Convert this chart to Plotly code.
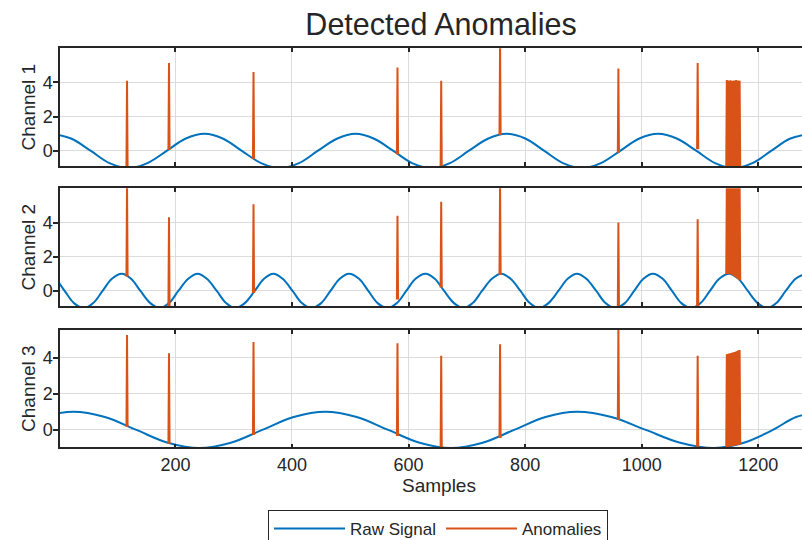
import plotly.graph_objects as go

# ---------------- data ----------------
x_range = [2, 1275]
x_ticks = [200, 400, 600, 800, 1000, 1200]
y_ticks = [0, 2, 4]
channel_names = ["Channel 1", "Channel 2", "Channel 3"]
series_names = ["Raw Signal", "Anomalies"]

# raw signal points (eighth-period spacing)
ch1_x = [-10, 22, 55, 87, 120, 152, 185, 217, 250, 282, 314, 347, 379, 412,
         444, 477, 509, 541, 574, 606, 639, 671, 703, 736, 768, 801, 833, 865,
         898, 930, 963, 995, 1028, 1061, 1094, 1126, 1157, 1190, 1222, 1254, 1287]
ch1_y = [1, .71, 0, -.71, -1, -.71, 0, .71, 1, .71, 0, -.71, -1, -.71,
         0, .71, 1, .71, 0, -.71, -1, -.71, 0, .71, 1, .71, 0, -.71,
         -1, -.71, 0, .71, 1, .71, 0, -.71, -1, -.71, 0, .71, 1]

ch2_x = [-23, -6, 10, 26, 43, 59, 75, 91,
         108, 124, 140, 157, 173, 189, 205, 222,
         238, 254, 271, 287, 303, 319, 336, 352,
         368, 384, 401, 417, 433, 450, 466, 482,
         498, 515, 531, 547, 564, 580, 596, 612,
         629, 645, 661, 678, 694, 710, 726, 743,
         759, 775, 792, 808, 824, 840, 857, 873,
         889, 905, 922, 938, 954, 971, 987, 1003,
         1019, 1036, 1052, 1068, 1085, 1101, 1117, 1133,
         1150, 1166, 1182, 1199, 1215, 1231, 1247, 1264,
         1280]
ch2_y = [1, .71, 0, -.71, -1, -.71, 0, .71,
         1, .71, 0, -.71, -1, -.71, 0, .71,
         1, .71, 0, -.71, -1, -.71, 0, .71,
         1, .71, 0, -.71, -1, -.71, 0, .71,
         1, .71, 0, -.71, -1, -.71, 0, .71,
         1, .71, 0, -.71, -1, -.71, 0, .71,
         1, .71, 0, -.71, -1, -.71, 0, .71,
         1, .71, 0, -.71, -1, -.71, 0, .71,
         1, .71, 0, -.71, -1, -.71, 0, .71,
         1, .71, 0, -.71, -1, -.71, 0, .71,
         1]

ch3_x = [-191, -137, -83, -29, 25, 79, 133, 187, 241, 295, 349, 403, 457,
         511, 565, 619, 673, 727, 781, 835, 889, 948, 1007, 1066, 1125,
         1175, 1225, 1265, 1310]
ch3_y = [-1, -.71, 0, .71, 1, .71, 0, -.71, -1, -.71, 0, .71, 1,
         .71, 0, -.71, -1, -.71, 0, .71, 1, .71, 0, -.71, -1,
         -.71, 0, .71, 1]

# isolated anomaly spikes
anomaly_idx = [117, 189, 334, 581, 656, 757, 960, 1096]
ch1_peak = [4.1, 5.14, 4.62, 4.88, 4.1, 6.3, 4.82, 5.14]
ch1_base = [-1.0, 0.05, -0.45, -0.2, -0.92, 0.93, -0.1, 0.1]
ch2_peak = [6.3, 4.31, 5.07, 4.4, 5.22, 6.3, 4.0, 4.19]
ch2_base = [0.84, -0.9, -0.12, -0.5, 0.2, 0.94, -0.98, -0.88]
ch3_peak = [5.25, 4.24, 4.85, 4.79, 4.09, 4.73, 5.8, 4.09]
ch3_base = [0.18, -0.77, -0.28, -0.33, -0.97, -0.45, 0.55, -0.93]

# burst of anomalies near the end
burst_idx = [1146, 1148, 1150, 1152, 1154, 1156, 1158, 1160, 1162, 1164, 1166, 1168]
ch1_burst_peak = [4.15, 4.12, 4.1, 4.13, 4.1, 4.1, 4.12, 4.1, 4.14, 4.1, 4.12, 4.1]
ch1_burst_base = [-0.97, -0.98, -0.99, -1, -1, -1, -1, -1, -1, -0.99, -0.98, -0.97]
ch2_burst_peak = [6.3, 6.3, 6.3, 6.3, 6.3, 6.3, 6.3, 6.3, 6.3, 6.3, 6.3, 6.3]
ch2_burst_base = [0.98, 0.99, 1.0, 0.99, 0.98, 0.95, 0.91, 0.87, 0.82, 0.76, 0.7, 0.63]
ch3_burst_peak = [4.18, 4.2, 4.22, 4.24, 4.25, 4.27, 4.29, 4.3, 4.33, 4.36, 4.4, 4.42]
ch3_burst_base = [-0.95, -0.94, -0.93, -0.92, -0.91, -0.9, -0.89, -0.88, -0.86, -0.85, -0.83, -0.81]

y_ranges = [[-0.88, 6.0], [-0.88, 6.0], [-0.96, 5.52]]

# ---------------- styling ----------------
BLUE = "#0072BD"
ORANGE = "#D95319"
DARK = "#262626"
GRID = "#dcdcdc"
FONT = "Liberation Sans, Arial, Helvetica, sans-serif"
domains = [[0.6926, 0.9106], [0.4333, 0.6513], [0.1717, 0.3889]]


def anomaly_series(peaks, bases, bpeaks, bbases):
    xs, ys = [], []
    for i, p, b in zip(anomaly_idx, peaks, bases):
        xs += [i - 1, i, i + 1, None]
        ys += [b, p, b, None]
    for i, p, b in zip(burst_idx, bpeaks, bbases):
        xs += [i - 1, i]
        ys += [b, p]
    xs.append(burst_idx[-1] + 1)
    ys.append(bbases[-1])
    return xs, ys


signals = [(ch1_x, ch1_y), (ch2_x, ch2_y), (ch3_x, ch3_y)]
anoms = [
    anomaly_series(ch1_peak, ch1_base, ch1_burst_peak, ch1_burst_base),
    anomaly_series(ch2_peak, ch2_base, ch2_burst_peak, ch2_burst_base),
    anomaly_series(ch3_peak, ch3_base, ch3_burst_peak, ch3_burst_base),
]

fig = go.Figure()
for k in range(3):
    suffix = "" if k == 0 else str(k + 1)
    sx, sy = signals[k]
    fig.add_trace(go.Scatter(
        x=sx, y=sy, mode="lines", name=series_names[0],
        line=dict(color=BLUE, width=2, shape="spline", smoothing=1.0),
        xaxis="x" + suffix, yaxis="y" + suffix, showlegend=(k == 0),
        legendgroup="raw", hoverinfo="skip"))
    ax, ay = anoms[k]
    fig.add_trace(go.Scatter(
        x=ax, y=ay, mode="lines", name=series_names[1],
        line=dict(color=ORANGE, width=2),
        xaxis="x" + suffix, yaxis="y" + suffix, showlegend=(k == 0),
        legendgroup="anom", connectgaps=False, hoverinfo="skip"))

layout = dict(
    width=802, height=540,
    margin=dict(l=60, r=0, t=0, b=0, autoexpand=False),
    paper_bgcolor="white", plot_bgcolor="white",
    font=dict(family=FONT, color=DARK, size=18),
    title=dict(text="Detected Anomalies", x=441 / 802, xref="container",
               xanchor="center", y=1 - 24 / 540, yref="container", yanchor="middle",
               font=dict(size=30.5, color=DARK, family=FONT)),
    showlegend=True,
    legend=dict(orientation="h", x=438 / 802, xref="container", xanchor="center",
                y=1 - 510 / 540, yref="container",
                yanchor="top", bordercolor=DARK, borderwidth=1, bgcolor="white",
                font=dict(size=17, color=DARK, family=FONT), itemwidth=71,
                traceorder="normal"),
    annotations=[dict(text="Samples", x=(439 - 60) / 742, y=1 - 485 / 540,
                      xref="paper", yref="paper", showarrow=False,
                      xanchor="center", yanchor="middle",
                      font=dict(size=19, color=DARK, family=FONT))],
)

for k in range(3):
    suffix = "" if k == 0 else str(k + 1)
    layout["xaxis" + suffix] = dict(
        domain=[0, 1], range=x_range, anchor="y" + suffix,
        tickvals=x_ticks, showticklabels=(k == 2),
        showgrid=True, gridcolor=GRID, gridwidth=1,
        showline=True, linecolor=DARK, linewidth=1.5, mirror="ticks",
        ticks="inside", ticklen=4, tickcolor=DARK, tickwidth=1.5,
        ticklabelstandoff=0,
        zeroline=False, tickfont=dict(size=18, color=DARK))
    layout["yaxis" + suffix] = dict(
        domain=domains[k], range=y_ranges[k], anchor="x" + suffix,
        tickvals=y_ticks, showgrid=True, gridcolor=GRID, gridwidth=1,
        showline=True, linecolor=DARK, linewidth=1.5, mirror=False,
        ticks="outside", ticklen=5, tickcolor=DARK, tickwidth=1.5,
        ticklabelstandoff=-3,
        zeroline=False, tickfont=dict(size=18, color=DARK),
        title=dict(text=channel_names[k], standoff=2,
                   font=dict(size=19, color=DARK, family=FONT)))

fig.update_layout(**layout)
fig.write_html("out.html")
